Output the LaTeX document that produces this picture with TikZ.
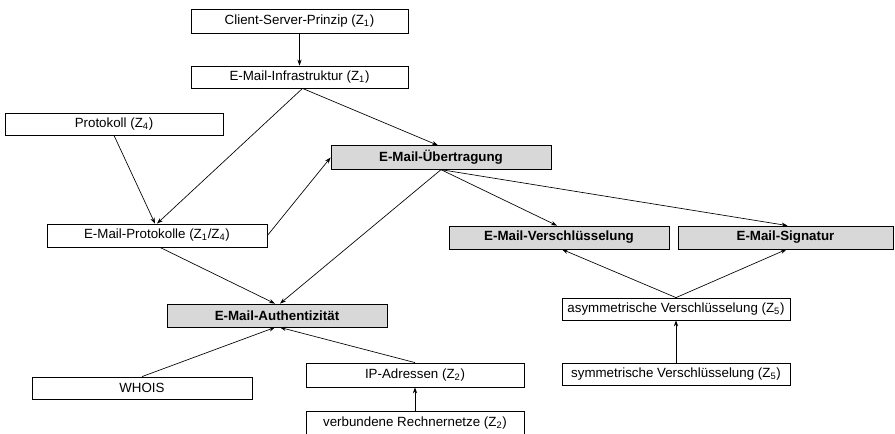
\documentclass[tikz,border=0pt]{standalone}
\usepackage{fontspec}
\setmainfont{Liberation Sans}
\usetikzlibrary{arrows.meta,calc}
\definecolor{boxgray}{HTML}{D8D8D8}
\newcommand{\Zsub}[1]{Z\textsubscript{#1}}
\begin{document}
\begin{tikzpicture}[x=0.75pt,y=-0.75pt,
  box/.style 2 args={draw=black,line width=0.6pt,fill=white,inner sep=0pt,
    minimum width=#1*0.75pt,minimum height=#2*0.75pt,font=\fontsize{10}{12}\selectfont},
  keybox/.style 2 args={box={#1}{#2},fill=boxgray,font=\fontsize{10}{12}\selectfont\bfseries},
  link/.style={line width=0.5pt,-{Stealth[length=4.5pt,width=3.2pt]}}]
\useasboundingbox (0,0) rectangle (895,433);
\clip (0,0) rectangle (895,433);

% upper chain
\node[box={217}{24}] (cs) at (299.5,21) {Client-Server-Prinzip (\Zsub{1})};
\node[box={217}{22}] (infra) at (299.5,77) {E-Mail-Infrastruktur (\Zsub{1})};
\node[box={218}{22}] (prot) at (114,124) {Protokoll (\Zsub{4})};
\node[box={220}{23}] (proto) at (157,235.5) {E-Mail-Protokolle (\Zsub{1}/\Zsub{4})};

% highlighted topics
\node[keybox={220}{23.5}] (ueb) at (441,157.5) {E-Mail-Übertragung};
\node[keybox={220}{23}] (vers) at (559,237.5) {E-Mail-Verschlüsselung};
\node[keybox={215}{23}] (sig) at (785.5,237.5) {E-Mail-Signatur};
\node[keybox={220}{23}] (auth) at (277,315.5) {E-Mail-Authentizität};

% lower nodes
\node[box={220}{22}] (whois) at (142,388) {WHOIS};
\node[box={218}{24}] (ip) at (415,375) {IP-Adressen (\Zsub{2})};
\node[box={218}{24}] (net) at (415,423) {verbundene Rechnernetze (\Zsub{2})};
\node[box={228}{22}] (asym) at (676,309) {asymmetrische Verschlüsselung (\Zsub{5})};
\node[box={228}{22}] (sym) at (676,374) {symmetrische Verschlüsselung (\Zsub{5})};

% connectors
\draw[link] (cs) -- (infra);
\draw[link] ($(infra.south)+(3,0)$) -- ($(ueb.north)+(-3,0)$);
\draw[link] ($(infra.south)+(3,0)$) -- (proto.north);
\draw[link] (prot.south) -- ($(proto.north)+(-2,0)$);
\draw[link] (proto.east) -- (ueb.west);
\draw[link] ($(proto.south)+(3,0)$) -- ($(auth.north)+(-2,0)$);
\draw[link] (ueb.south) -- ($(auth.north)+(3,0)$);
\draw[link] (ueb.south) -- ($(vers.north)+(-2,0)$);
\draw[link] (ueb.south) -- ($(sig.north)+(2,0)$);
\draw[link] (asym.north) -- ($(vers.south)+(3,0)$);
\draw[link] (asym.north) -- ($(sig.south)+(1,0)$);
\draw[link] (sym) -- (asym);
\draw[link] (whois.north) -- ($(auth.south)+(-2,0)$);
\draw[link] (ip.north) -- ($(auth.south)+(3,0)$);
\draw[link] (net) -- (ip);
\end{tikzpicture}
\end{document}
